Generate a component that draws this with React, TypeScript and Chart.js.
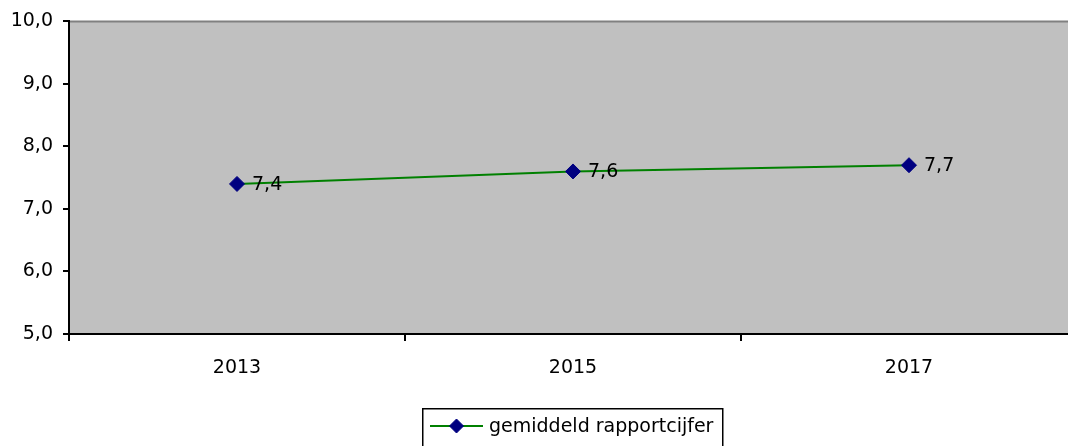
import React, { useEffect, useRef } from "react";
import { Chart, registerables } from "chart.js";

Chart.register(...registerables);

const categories: string[] = ["2013", "2015", "2017"];
const values: number[] = [7.4, 7.6, 7.7];
const seriesLabel = "gemiddeld rapportcijfer";
const yMin = 5;
const yMax = 10;
const yStep = 1;

const FONT = "'DejaVu Sans', Verdana, sans-serif";
const FONT_SIZE = 19;
const fmt = (v: number) => v.toFixed(1).replace(".", ",");

const CANVAS_W = 1136;
const CANVAS_H = 446;

const plotBgPlugin = {
  id: "plotBg",
  beforeDraw(chart: any) {
    const { ctx, chartArea } = chart;
    ctx.save();
    ctx.fillStyle = "#C0C0C0";
    ctx.fillRect(chartArea.left, chartArea.top, chartArea.right - chartArea.left, chartArea.bottom - chartArea.top);
    ctx.strokeStyle = "#808080";
    ctx.lineWidth = 2;
    ctx.beginPath();
    ctx.moveTo(chartArea.left, chartArea.top);
    ctx.lineTo(chartArea.right, chartArea.top);
    ctx.lineTo(chartArea.right, chartArea.bottom);
    ctx.stroke();
    ctx.restore();
  },
};

const dataLabelPlugin = {
  id: "dataLabels",
  afterDatasetsDraw(chart: any) {
    const { ctx } = chart;
    const meta = chart.getDatasetMeta(0);
    ctx.save();
    ctx.font = `${FONT_SIZE}px ${FONT}`;
    ctx.fillStyle = "#000";
    ctx.textAlign = "left";
    ctx.textBaseline = "middle";
    meta.data.forEach((pt: any, i: number) => {
      ctx.fillText(fmt(values[i]), pt.x + 15, pt.y + 1);
    });
    ctx.restore();
  },
};

const legendPlugin = {
  id: "boxLegend",
  afterDraw(chart: any) {
    const { ctx } = chart;
    const ds = chart.data.datasets[0];
    const boxLeft = 422;
    const boxTop = 408;
    const boxW = 300;
    const cy = 426;
    ctx.save();
    ctx.fillStyle = "#fff";
    ctx.fillRect(boxLeft, boxTop, boxW, 60);
    ctx.strokeStyle = "#000";
    ctx.lineWidth = 1.5;
    ctx.strokeRect(boxLeft + 0.75, boxTop + 0.75, boxW, 60);
    ctx.strokeStyle = ds.borderColor;
    ctx.lineWidth = 2;
    ctx.beginPath();
    ctx.moveTo(430, cy);
    ctx.lineTo(483, cy);
    ctx.stroke();
    const r = 7;
    const mx = 456.5;
    ctx.fillStyle = ds.pointBackgroundColor;
    ctx.strokeStyle = ds.pointBorderColor;
    ctx.lineWidth = 1;
    ctx.beginPath();
    ctx.moveTo(mx - r, cy);
    ctx.lineTo(mx, cy - r);
    ctx.lineTo(mx + r, cy);
    ctx.lineTo(mx, cy + r);
    ctx.closePath();
    ctx.fill();
    ctx.stroke();
    ctx.font = `${FONT_SIZE}px ${FONT}`;
    ctx.fillStyle = "#000";
    ctx.textAlign = "left";
    ctx.textBaseline = "middle";
    ctx.fillText(ds.label, 489, cy + 1);
    ctx.restore();
  },
};

export default function App() {
  const canvasRef = useRef<HTMLCanvasElement | null>(null);

  useEffect(() => {
    const canvas = canvasRef.current;
    if (!canvas) return;
    const chart = new Chart(canvas, {
      type: "line",
      data: {
        labels: categories,
        datasets: [
          {
            label: seriesLabel,
            data: values,
            borderColor: "#008000",
            borderWidth: 2,
            pointStyle: "rectRot",
            pointRadius: 7.5,
            pointBackgroundColor: "#000080",
            pointBorderColor: "#000080",
            pointBorderWidth: 1,
            tension: 0,
            fill: false,
          },
        ],
      },
      options: {
        responsive: false,
        animation: false,
        devicePixelRatio: 1,
        events: [],
        layout: { padding: { top: 19, left: 0, right: CANVAS_W - 1077, bottom: 0 } },
        plugins: {
          legend: { display: false },
          tooltip: { enabled: false },
          title: { display: false },
        },
        scales: {
          x: {
            type: "category",
            offset: true,
            grid: {
              offset: true,
              drawOnChartArea: false,
              drawTicks: true,
              tickLength: 7,
              color: "#000",
              lineWidth: 2,
            },
            border: { display: true, color: "#000", width: 2 },
            ticks: {
              color: "#000",
              font: { family: FONT, size: FONT_SIZE },
              padding: 16,
              maxRotation: 0,
              autoSkip: false,
            },
            afterFit: (s: any) => {
              s.height = 112;
            },
          },
          y: {
            type: "linear",
            min: yMin,
            max: yMax,
            grid: {
              drawOnChartArea: false,
              drawTicks: true,
              tickLength: 6,
              color: "#000",
              lineWidth: 2,
            },
            border: { display: true, color: "#000", width: 2 },
            ticks: {
              stepSize: yStep,
              color: "#000",
              font: { family: FONT, size: FONT_SIZE },
              padding: 10,
              callback: (v: any) => fmt(Number(v)),
            },
            afterFit: (s: any) => {
              s.width = 69;
            },
          },
        },
      },
      plugins: [plotBgPlugin, dataLabelPlugin, legendPlugin],
    });
    return () => chart.destroy();
  }, []);

  return (
    <div
      style={{
        position: "fixed",
        left: 0,
        top: 0,
        width: 1068,
        height: 446,
        overflow: "hidden",
        background: "#fff",
      }}
    >
      <canvas
        ref={canvasRef}
        width={CANVAS_W}
        height={CANVAS_H}
        style={{ width: CANVAS_W, height: CANVAS_H, display: "block" }}
      />
    </div>
  );
}
